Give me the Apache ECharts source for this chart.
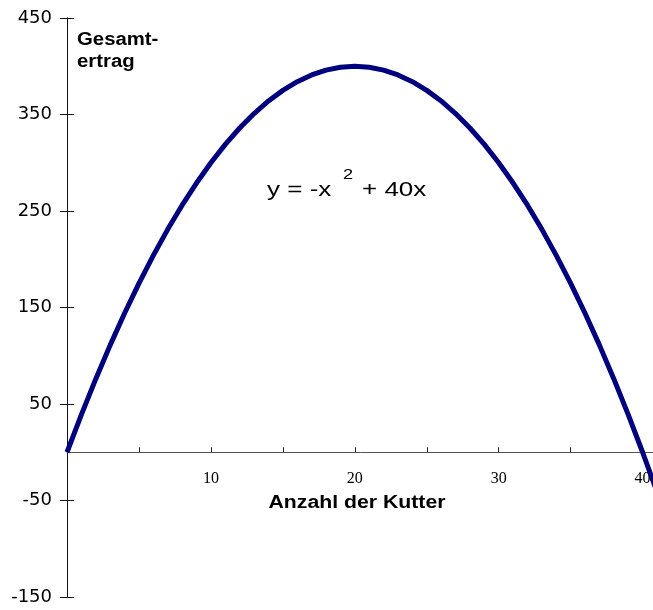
<!DOCTYPE html>
<html><head><meta charset="utf-8">
<script src="https://cdn.jsdelivr.net/npm/echarts@6/dist/echarts.min.js"></script>
<style>html,body{margin:0;padding:0;background:#fff}#c{width:653px;height:610px}</style>
</head><body><div id="c"></div>
<script>
// Anzahl der Kutter (x) and Gesamtertrag (y)
const kutter = [0,1,2,3,4,5,6,7,8,9,10,11,12,13,14,15,16,17,18,19,20,21,22,23,24,25,26,27,28,29,30,31,32,33,34,35,36,37,38,39,40,41];
const ertrag = [0,39,76,111,144,175,204,231,256,279,300,319,336,351,364,375,384,391,396,399,400,399,396,391,384,375,364,351,336,319,300,279,256,231,204,175,144,111,76,39,0,-41];
const xTickLabels = ['10','20','30','40'];
const yTickLabels = ['-150','-50','50','150','250','350','450'];

const GRID_LEFT = 67, GRID_TOP = 18, GRID_W = 590, GRID_H = 579;
const Y_MIN = -150, Y_MAX = 450;
// distance from grid bottom to the y = 0 line
const zeroOffset = -GRID_H * (0 - Y_MIN) / (Y_MAX - Y_MIN);

const chart = echarts.init(document.getElementById('c'), null, {renderer:'canvas'});
const gridBase = {left:GRID_LEFT, top:GRID_TOP, width:GRID_W, height:GRID_H, outerBoundsMode:'none', containLabel:false};
const yAxisBase = {type:'value', min:Y_MIN, max:Y_MAX, interval:100, splitLine:{show:false}};
chart.setOption({
  backgroundColor:'#fff',
  animation:false,
  grid:[Object.assign({}, gridBase), Object.assign({}, gridBase)],
  xAxis:[
    {gridIndex:0, type:'value', min:0, max:41, interval:5, position:'bottom', offset:zeroOffset,
      axisLine:{show:true, onZero:false, lineStyle:{color:'#555', width:1}},
      axisTick:{show:true, inside:true, length:5, lineStyle:{color:'#222'}},
      axisLabel:{show:true, margin:19, color:'#000', fontFamily:'Liberation Serif', fontSize:16,
        hideOverlap:false, showMinLabel:true, showMaxLabel:true,
        formatter:v=> xTickLabels.indexOf(String(v))>=0 ? String(v) : ''},
      splitLine:{show:false}},
    {gridIndex:1, type:'value', min:0, max:41, interval:5,
      axisLine:{show:false}, axisTick:{show:false}, axisLabel:{show:false}, splitLine:{show:false}}
  ],
  yAxis:[
    Object.assign({}, yAxisBase, {gridIndex:0, position:'left',
      axisLine:{show:true, onZero:false, lineStyle:{color:'#111', width:1}},
      axisTick:{show:true, inside:false, length:7, lineStyle:{color:'#111'}},
      axisLabel:{show:true, margin:15, color:'#000', fontFamily:'DejaVu Sans', fontSize:18, padding:[8,0,0,0],
        formatter:v=> yTickLabels.indexOf(String(v))>=0 ? String(v) : ''}}),
    Object.assign({}, yAxisBase, {gridIndex:1, position:'left',
      axisLine:{show:true, onZero:false, lineStyle:{color:'#111', width:1}},
      axisTick:{show:true, inside:true, length:7, lineStyle:{color:'#111', width:1}},
      axisLabel:{show:false}})
  ],
  series:[
    {type:'line', xAxisIndex:0, yAxisIndex:0, showSymbol:false, symbol:'none',
      lineStyle:{color:'#00007f', width:5}, z:5,
      data:kutter.map((x,i)=>[x, ertrag[i]])},
    {type:'line', xAxisIndex:1, yAxisIndex:1, showSymbol:false, silent:true, data:[]}
  ],
  graphic:[
    {type:'text', x:77, y:40, scaleX:1.13, style:{text:'Gesamt-', font:'bold 18px "Liberation Sans"', fill:'#000', align:'left', verticalAlign:'middle'}},
    {type:'text', x:77, y:62, scaleX:1.13, style:{text:'ertrag', font:'bold 18px "Liberation Sans"', fill:'#000', align:'left', verticalAlign:'middle'}},
    {type:'text', x:357, y:503, scaleX:1.18, style:{text:'Anzahl der Kutter', font:'bold 18px "Liberation Sans"', fill:'#000', align:'center', verticalAlign:'middle'}},
    {type:'text', x:267, y:190, scaleX:1.3, style:{text:'y = -x', font:'20px "Liberation Sans"', fill:'#000', align:'left', verticalAlign:'middle'}},
    {type:'text', x:343, y:175, scaleX:1.3, style:{text:'2', font:'14px "Liberation Sans"', fill:'#000', align:'left', verticalAlign:'middle'}},
    {type:'text', x:362, y:190, scaleX:1.3, style:{text:'+ 40x', font:'20px "Liberation Sans"', fill:'#000', align:'left', verticalAlign:'middle'}}
  ]
});
</script></body></html>
